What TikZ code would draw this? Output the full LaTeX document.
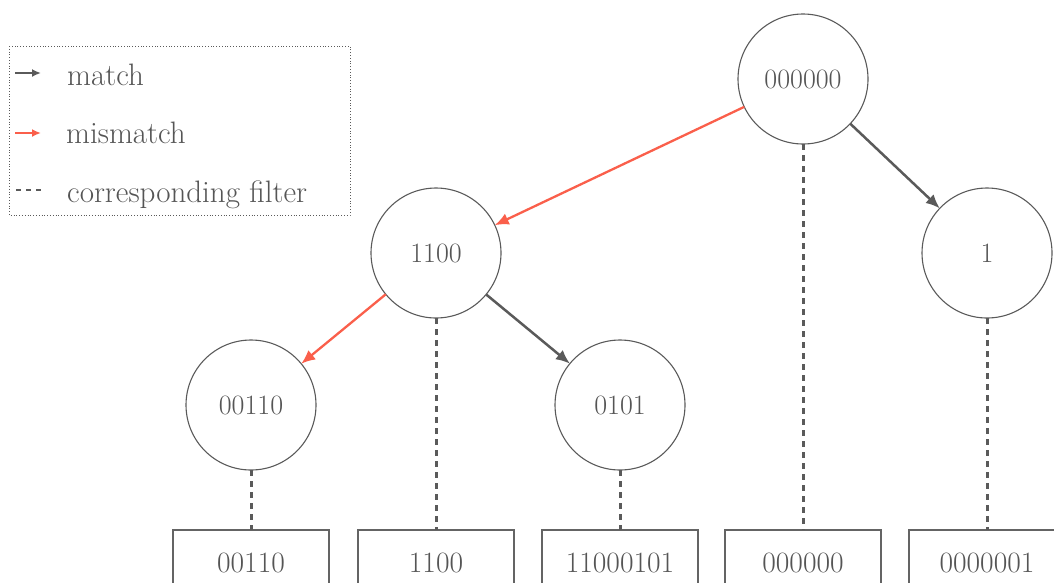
\documentclass[tikz,border=0pt]{standalone}
\usepackage{fontspec}
\usetikzlibrary{arrows.meta}
\definecolor{ink}{RGB}{85,85,85}
\definecolor{edge}{RGB}{90,90,90}
\definecolor{boxline}{RGB}{100,100,100}
\definecolor{miss}{RGB}{250,95,75}
\tikzset{
  trie/.style={circle, draw=edge, line width=1.1pt, minimum size=130pt, inner sep=0pt, outer sep=0pt, text=ink, font=\fontsize{28}{34}\selectfont},
  filterbox/.style={rectangle, draw=boxline, line width=1.2pt, minimum width=156pt, minimum height=66pt, inner sep=0pt, outer sep=0pt, anchor=north, text=ink, font=\fontsize{29.5}{35}\selectfont},
  matcharrow/.style={draw=edge, line width=2.5pt, -{Latex[length=14pt,width=12pt]}},
  missarrow/.style={draw=miss, line width=2.3pt, -{Latex[length=14pt,width=12pt]}},
  filterline/.style={draw=edge, line width=3pt, dash pattern=on 6pt off 5pt},
  legtext/.style={anchor=base west, text=ink, inner sep=0pt, font=\fontsize{31}{37}\selectfont},
}
\begin{document}
\begin{tikzpicture}[x=1pt,y=-1pt]
\clip (0,0) rectangle (1054,582);
\useasboundingbox (0,0) rectangle (1054,582);

% legend
\draw[draw=edge, line width=0.8pt, dotted] (9,46) rectangle (350,215);
\coordinate (la1) at (15,73);  \coordinate (lb1) at (41,73);
\coordinate (la2) at (15,133); \coordinate (lb2) at (41,133);
\coordinate (la3) at (16,190); \coordinate (lb3) at (42,190);
\draw[draw=edge, line width=2pt, -{Latex[length=9pt,width=8pt]}] (la1) -- (lb1);
\draw[draw=miss, line width=2pt, -{Latex[length=9pt,width=8pt]}] (la2) -- (lb2);
\draw[draw=edge, line width=2pt, dash pattern=on 5pt off 5pt] (la3) -- (lb3);
\node[legtext] (lm) at (67,85) {match};
\node[legtext] (lmm) at (66,143) {mismatch};
\node[legtext] (lcf) at (67,202) {corresponding filter};

% trie nodes
\node[trie] (root) at (803,79) {000000};
\node[trie] (n1100) at (436,253) {1100};
\node[trie] (n1) at (987,253) {1};
\node[trie] (n00110) at (251,405) {00110};
\node[trie] (n0101) at (620,405) {0101};

% filter boxes
\node[filterbox] (b1) at (251,530) {00110};
\node[filterbox] (b2) at (436,530) {1100};
\node[filterbox] (b3) at (620,530) {11000101};
\node[filterbox] (b4) at (803,530) {000000};
\node[filterbox] (b5) at (987,530) {0000001};

% edges
\draw[missarrow] (root) -- (n1100);
\draw[matcharrow] (root) -- (n1);
\draw[missarrow] (n1100) -- (n00110);
\draw[matcharrow] (n1100) -- (n0101);

% filter links
\draw[filterline] (root.south) -- (b4.north);
\draw[filterline] (n1100.south) -- (b2.north);
\draw[filterline] (n1.south) -- (b5.north);
\draw[filterline] (n00110.south) -- (b1.north);
\draw[filterline] (n0101.south) -- (b3.north);
\end{tikzpicture}
\end{document}
